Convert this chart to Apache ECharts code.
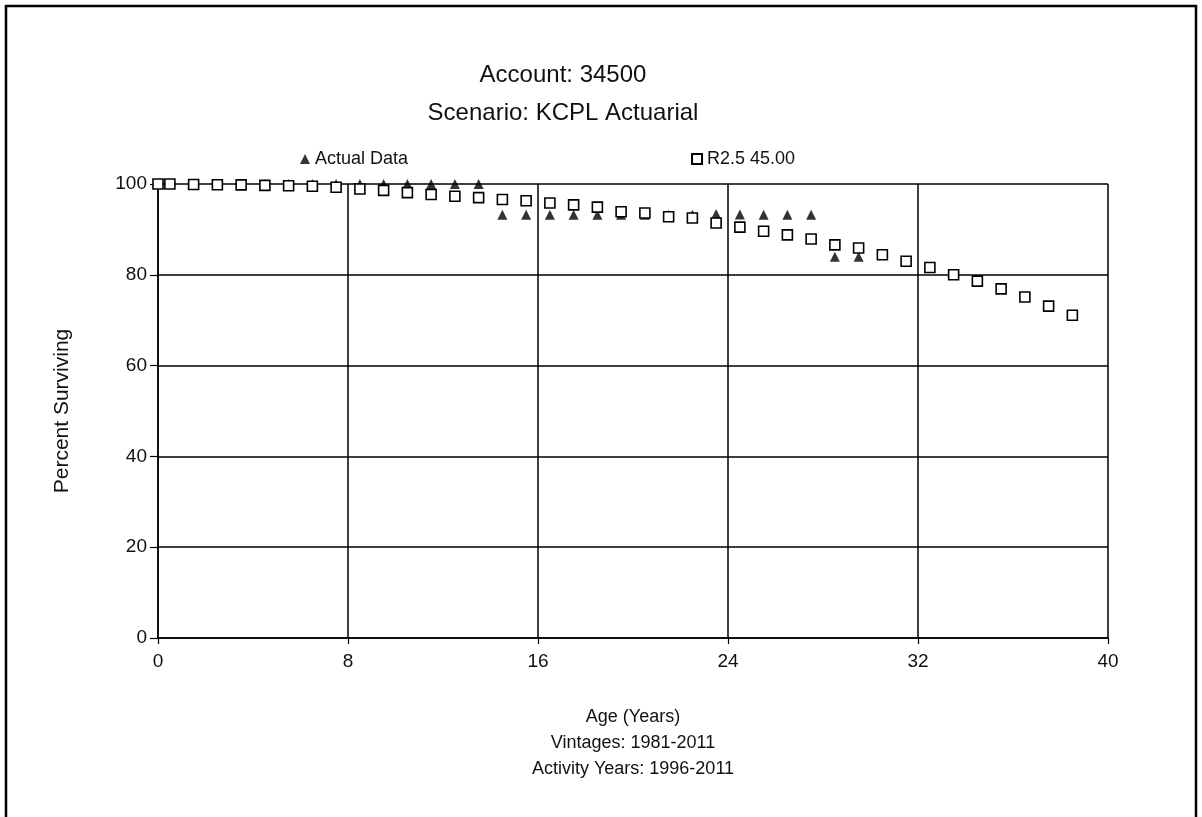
<!DOCTYPE html>
<html>
<head>
<meta charset="utf-8">
<script src="https://cdn.jsdelivr.net/npm/echarts@6/dist/echarts.min.js"></script>
<style>
html,body{margin:0;padding:0;background:#fff;}
#chart{width:1202px;height:817px;}
</style>
</head>
<body>
<div id="chart"></div>
<script>
// ---- data ----
var actualAges = [0,0.5,1.5,2.5,3.5,4.5,5.5,6.5,7.5,8.5,9.5,10.5,11.5,12.5,13.5,14.5,15.5,16.5,17.5,18.5,19.5,20.5,21.5,22.5,23.5,24.5,25.5,26.5,27.5,28.5,29.5];
var actualValues = [100,100,100,100,100,100,100,100,100,100,100,100,100,100,100,93.2,93.2,93.2,93.2,93.2,93.2,93.2,93.2,93.2,93.4,93.3,93.2,93.2,93.2,84.0,84.0];
var fitAges = [0,0.5,1.5,2.5,3.5,4.5,5.5,6.5,7.5,8.5,9.5,10.5,11.5,12.5,13.5,14.5,15.5,16.5,17.5,18.5,19.5,20.5,21.5,22.5,23.5,24.5,25.5,26.5,27.5,28.5,29.5,30.5,31.5,32.5,33.5,34.5,35.5,36.5,37.5,38.5];
var fitValues = [100,100,99.9,99.85,99.8,99.7,99.6,99.5,99.3,98.9,98.6,98.1,97.7,97.3,97.0,96.6,96.3,95.8,95.4,94.9,93.9,93.6,92.8,92.5,91.4,90.5,89.6,88.8,87.9,86.6,85.9,84.4,83.0,81.6,80.0,78.6,76.9,75.1,73.1,71.1];
var xTicks = [0,8,16,24,32,40];
var yTicks = [0,20,40,60,80,100];
var titleLines = ['Account: 34500','Scenario: KCPL Actuarial'];
var seriesNames = ['Actual Data','R2.5 45.00'];
var xNameLines = ['Age (Years)','Vintages: 1981-2011','Activity Years: 1996-2011'];
var yName = 'Percent Surviving';

function zip(a,b){var r=[];for(var i=0;i<a.length;i++)r.push([a[i],b[i]]);return r;}

var FONT = 'Liberation Sans, Arial, sans-serif';
var chart = echarts.init(document.getElementById('chart'), null, {renderer:'canvas'});
var option = {
  backgroundColor:'#fff',
  animation:false,
  textStyle:{fontFamily:FONT,color:'#000'},
  graphic:[
    {type:'rect',shape:{x:6,y:6,width:1190,height:840},style:{fill:'none',stroke:'#000',lineWidth:2.5},silent:true},
    {type:'text',x:563,y:75,style:{text:titleLines[0],fontSize:24,fontFamily:FONT,fill:'#111',align:'center',verticalAlign:'middle'}},
    {type:'text',x:563,y:113,style:{text:titleLines[1],fontSize:24,fontFamily:FONT,fill:'#111',align:'center',verticalAlign:'middle'}}
  ],
  legend:{
    data:[{name:seriesNames[0],icon:'triangle'},{name:seriesNames[1],icon:'rect'}],
    left:295, top:145, itemWidth:10, itemHeight:10, itemGap:283,
    textStyle:{fontSize:18,fontFamily:FONT,color:'#111'},
    selectedMode:false
  },
  grid:{left:158,right:94,top:184,bottom:179,containLabel:false,show:false},
  xAxis:{
    type:'value',min:0,max:40,interval:8,
    name:xNameLines.join('\n'),nameLocation:'middle',nameGap:66,
    nameTextStyle:{fontSize:18,lineHeight:26,color:'#111',fontFamily:FONT,verticalAlign:'top'},
    axisLine:{show:true,lineStyle:{color:'#000',width:1.5}},
    axisTick:{show:true,inside:false,length:6,lineStyle:{color:'#000',width:1.2}},
    axisLabel:{fontSize:19,color:'#111',margin:14,fontFamily:FONT,
      formatter:function(v){return xTicks.indexOf(v)>=0?String(v):'';}},
    splitLine:{show:true,lineStyle:{color:'#000',width:1.5}}
  },
  yAxis:{
    type:'value',min:0,max:100,interval:20,
    name:yName,nameLocation:'middle',nameGap:85,nameRotate:90,
    nameTextStyle:{fontSize:21,color:'#111',fontFamily:FONT},
    axisLine:{show:true,lineStyle:{color:'#000',width:1.5}},
    axisTick:{show:true,inside:false,length:8,lineStyle:{color:'#000',width:1.2}},
    axisLabel:{fontSize:19,color:'#111',margin:11,fontFamily:FONT,
      formatter:function(v){return yTicks.indexOf(v)>=0?String(v):'';}},
    splitLine:{show:true,lineStyle:{color:'#000',width:1.5}}
  },
  series:[
    {name:seriesNames[0],type:'scatter',symbol:'triangle',symbolSize:10,
     itemStyle:{color:'#000'},data:zip(actualAges,actualValues),z:2},
    {name:seriesNames[1],type:'scatter',symbol:'rect',symbolSize:10,
     itemStyle:{color:'#fff',borderColor:'#000',borderWidth:1.6,opacity:1},data:zip(fitAges,fitValues),z:3}
  ]
};
chart.setOption(option);
</script>
</body>
</html>
